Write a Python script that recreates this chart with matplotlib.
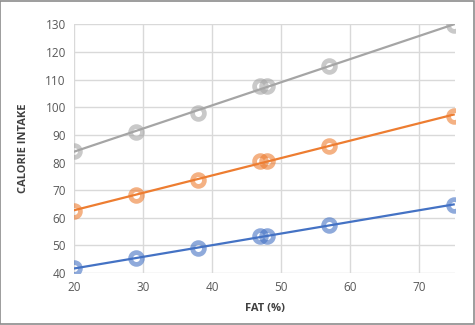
import numpy as np
import matplotlib
matplotlib.use("Agg")
import matplotlib.pyplot as plt
from matplotlib.patches import Rectangle

fat = [20, 29, 38, 47, 48, 57, 75]
series_gray = [84, 91.2, 98, 107.8, 107.8, 114.8, 129.6]
series_orange = [62.6, 68.3, 73.5, 80.6, 80.6, 86, 97]
series_blue = [41.7, 45.3, 48.9, 53.5, 53.5, 57.2, 64.7]
xticks = [20, 30, 40, 50, 60, 70]
yticks = [40, 50, 60, 70, 80, 90, 100, 110, 120, 130]

plt.rcParams['font.family'] = ['Open Sans', 'DejaVu Sans']

fig = plt.figure(figsize=(4.75, 3.25), dpi=100)
ax = fig.add_axes([0.156, 0.16, 0.802, 0.765])

colors = ['#A5A5A5', '#ED7D31', '#4472C4']
x = np.array(fat, dtype=float)
for ys, c in zip([series_gray, series_orange, series_blue], colors):
    ys = np.array(ys, dtype=float)
    ax.plot(x, ys, 'o', ms=8.5, mfc='none', mec=c, mew=3.4, alpha=0.6, zorder=3)
    k, b = np.polyfit(x, ys, 1)
    xl = np.array([x.min(), x.max()])
    ax.plot(xl, k * xl + b, '-', color=c, lw=1.6, zorder=4)

ax.set_xlim(20, 75.2)
ax.set_ylim(40, 130)
ax.set_xticks(xticks)
ax.set_yticks(yticks)
ax.grid(True, color='#D9D9D9', lw=1)
ax.set_axisbelow(True)
for s in ax.spines.values():
    s.set_visible(False)
ax.tick_params(length=0, labelsize=8.5, colors='#595959', pad=6)
ax.set_xlabel('FAT (%)', fontsize=8, fontweight='bold', color='#404040', labelpad=6)
ax.set_ylabel('CALORIE INTAKE', fontsize=8, fontweight='bold', color='#404040', labelpad=12)

fig.patches.append(Rectangle((0.001, 0.002), 0.997, 0.995, transform=fig.transFigure,
                             fill=False, edgecolor='#8C8C8C', lw=1.2))
fig.savefig('out.png', dpi=100)
